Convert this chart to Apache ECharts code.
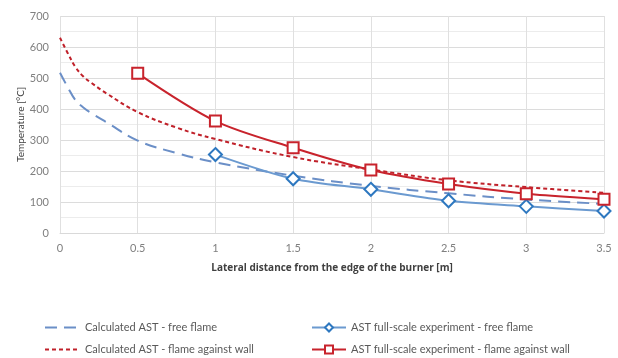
<!DOCTYPE html>
<html><head><meta charset="utf-8">
<script src="https://cdn.jsdelivr.net/npm/echarts@6/dist/echarts.min.js"></script>
<style>html,body{margin:0;padding:0;background:#fff}#c{width:618px;height:358px}</style>
</head><body><div id="c"></div>
<script>
const calcX = [0, 0.05, 0.1, 0.15, 0.2, 0.3, 0.5, 0.75, 1, 1.5, 2, 2.5, 3, 3.5];
const calcFree = [517, 470, 428, 405, 387, 357, 298, 258, 228, 185, 152, 128, 108, 94];
const calcWall = [630, 580, 535, 505, 485, 450, 390, 340, 303, 245, 205, 170, 148, 130];
const expX = [0.5, 1, 1.5, 2, 2.5, 3, 3.5];
const expFree = [null, 253, 175, 141, 104, 86, 71];
const expWall = [515, 361, 275, 203, 158, 127, 109];
const names = ['Calculated AST - free flame', 'Calculated AST - flame against wall',
  'AST full-scale experiment - free flame', 'AST full-scale experiment - flame against wall'];
const pair = (xs, ys) => xs.map((x, i) => [x, ys[i]]).filter(p => p[1] !== null);
const font = 'Lato, Open Sans, sans-serif';
const legTxt = {color: '#595959', fontSize: 11, fontFamily: font};
const hidden = {color: 'rgba(0,0,0,0)', borderWidth: 0, opacity: 0};
const legendPos = [[44, 322, 35], [44, 344, 35], [311, 322, 34], [311, 344, 34]];
const legends = names.map((n, i) => ({
  left: legendPos[i][0], top: legendPos[i][1], itemWidth: legendPos[i][2], itemHeight: 10, itemGap: 4,
  padding: 0, textStyle: legTxt,
  data: [i < 2 ? {name: n, itemStyle: hidden} : n]
}));
const chart = echarts.init(document.getElementById('c'));
chart.setOption({
  animation: false,
  textStyle: {fontFamily: font},
  grid: {left: 60, right: 14, top: 16, bottom: 125, outerBoundsMode: 'none', containLabel: false},
  xAxis: {type: 'value', min: 0, max: 3.5, interval: 0.5,
    name: 'Lateral distance from the edge of the burner [m]', nameLocation: 'middle', nameGap: 30,
    nameMoveOverlap: false,
    nameTextStyle: {color: '#404040', fontSize: 10, fontWeight: 'bold', fontFamily: 'Open Sans, sans-serif'},
    axisLine: {lineStyle: {color: '#d9d9d9'}}, axisTick: {show: false},
    axisLabel: {color: '#7f7f7f', fontSize: 11, margin: 10},
    splitLine: {show: true, lineStyle: {color: '#e0e0e0'}}},
  yAxis: {type: 'value', min: 0, max: 700, interval: 100,
    name: 'Temperature [°C]', nameLocation: 'middle', nameGap: 34, nameMoveOverlap: false,
    nameTextStyle: {color: '#404040', fontSize: 10, fontFamily: font},
    axisLine: {show: false}, axisTick: {show: false},
    axisLabel: {color: '#7f7f7f', fontSize: 11, margin: 11},
    splitLine: {lineStyle: {color: '#dcdcdc'}},
    minorTick: {show: false, splitNumber: 2},
    minorSplitLine: {show: true, lineStyle: {color: '#ececec'}}},
  legend: legends,
  series: [
    {name: names[0], type: 'line', smooth: 0.4, symbol: 'circle', showSymbol: false, data: pair(calcX, calcFree),
     lineStyle: {color: '#6b8fc7', width: 2, type: [12, 7]}, itemStyle: {color: '#6b8fc7'}},
    {name: names[1], type: 'line', smooth: 0.4, symbol: 'circle', showSymbol: false, data: pair(calcX, calcWall),
     lineStyle: {color: '#c0212a', width: 2, type: [4, 3]}, itemStyle: {color: '#c0212a'}},
    {name: names[2], type: 'line', smooth: 0.3, symbol: 'diamond', symbolSize: 13, data: pair(expX, expFree),
     lineStyle: {color: '#6b9ad0', width: 2}, itemStyle: {color: '#fff', borderColor: '#2e78c0', borderWidth: 2}},
    {name: names[3], type: 'line', smooth: 0.3, symbol: 'rect', symbolSize: 11, data: pair(expX, expWall),
     lineStyle: {color: '#c8232c', width: 2}, itemStyle: {color: '#fff', borderColor: '#c8232c', borderWidth: 2}}
  ]
});
</script></body></html>
